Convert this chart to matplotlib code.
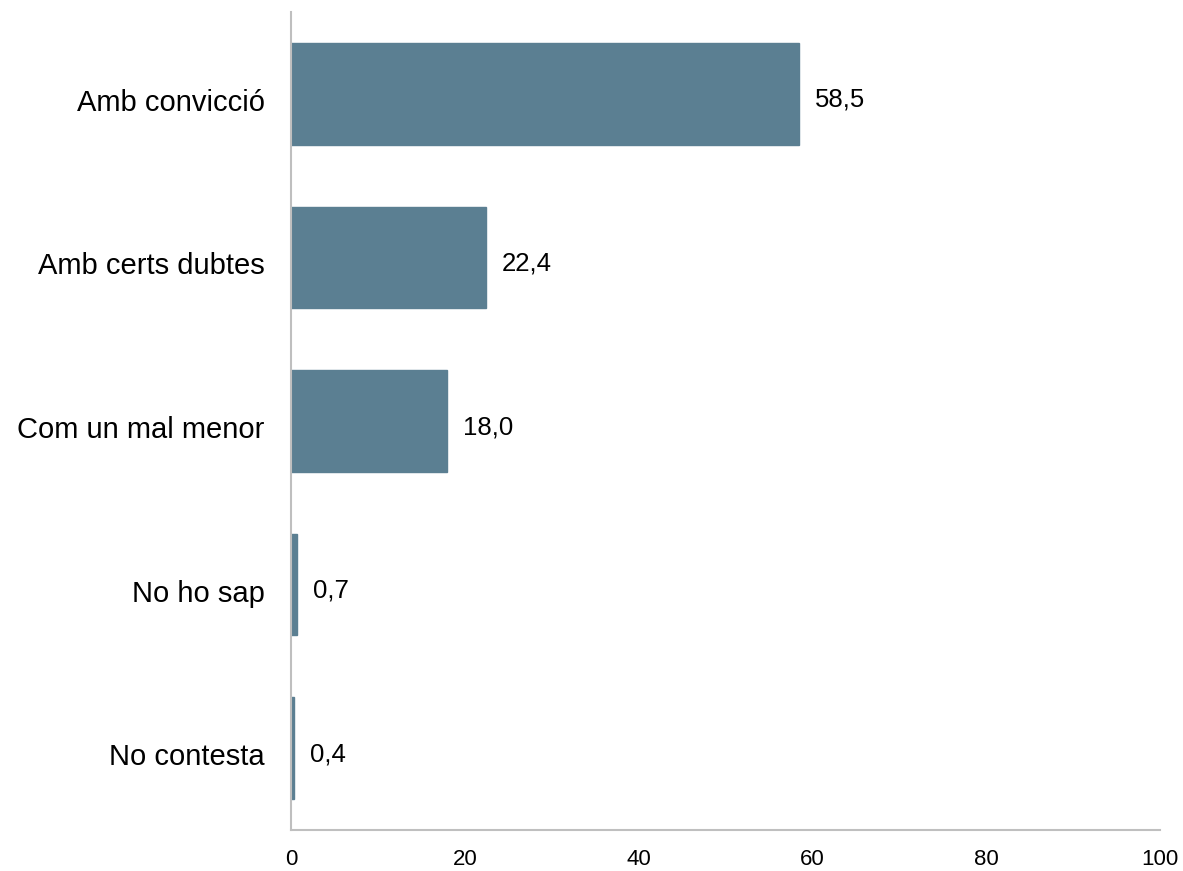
import matplotlib
matplotlib.use("Agg")
import matplotlib.pyplot as plt
import matplotlib.transforms as mtransforms

categories = ["Amb convicció", "Amb certs dubtes", "Com un mal menor", "No ho sap", "No contesta"]
values = [58.5, 22.4, 18.0, 0.7, 0.4]
labels = ["58,5", "22,4", "18,0", "0,7", "0,4"]
xticks = [0, 20, 40, 60, 80, 100]

plt.rcParams['font.family'] = ['Liberation Sans', 'DejaVu Sans']

fig = plt.figure(figsize=(11.83, 8.71), dpi=100)
ax = fig.add_axes([291/1183, 41/871, 869/1183, 818/871])

bar_color = '#5B7F92'
pos = list(range(len(categories)))
ax.barh(pos, values, height=0.62, color=bar_color, edgecolor=bar_color, linewidth=1)

for p, v, t in zip(pos, values, labels):
    ax.annotate(t, (v, p), xytext=(16, -6), textcoords='offset pixels',
                va='center', ha='left', fontsize=18.5, color='black')

ax.set_yticks(pos)
ax.set_yticklabels(categories, fontsize=21)
ax.set_xticks(xticks)
ax.set_xticklabels([str(x) for x in xticks], fontsize=16)
ax.set_xlim(0, 100)
ax.set_ylim(4.5, -0.5)

ax.tick_params(axis='both', length=0)
ax.tick_params(axis='x', pad=14)
ax.tick_params(axis='y', pad=19)

# nudge category labels slightly down
shift = mtransforms.ScaledTranslation(0, -6/100, fig.dpi_scale_trans)
for lab in ax.get_yticklabels():
    lab.set_transform(lab.get_transform() + shift)

for s in ['top', 'right']:
    ax.spines[s].set_visible(False)
for s in ['left', 'bottom']:
    ax.spines[s].set_color('#BFBFBF')
    ax.spines[s].set_linewidth(1.5)

fig.savefig("out.png", dpi=100)
